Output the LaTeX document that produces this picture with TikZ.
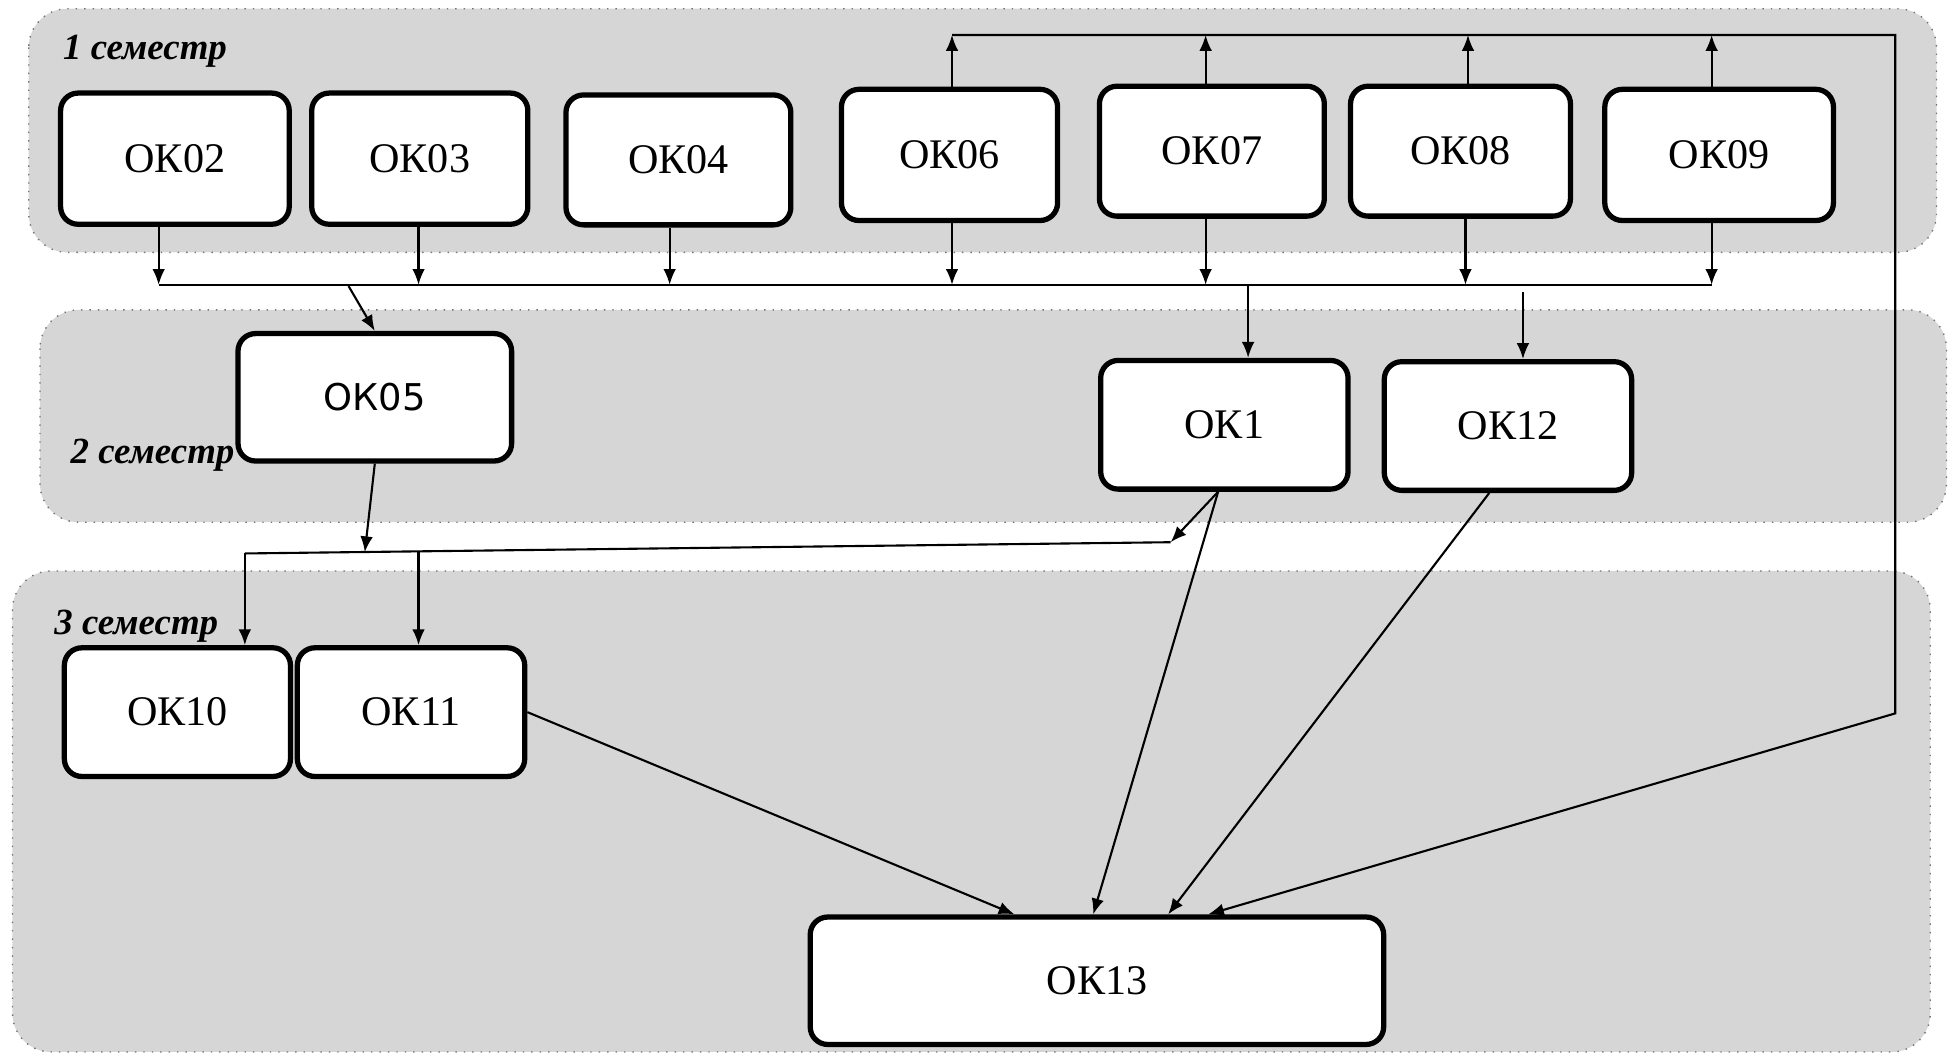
\documentclass[tikz,border=0pt]{standalone}
\usepackage{fontspec}
\setmainfont{Liberation Serif}
\newfontfamily\okfivefont{DejaVu Sans}
\usetikzlibrary{arrows.meta}
\newcommand\pxlen{0.012494cm}

\begin{document}
\begin{tikzpicture}
[x=\pxlen, y=-\pxlen,
  semdecorate/.style={draw=black!55, dotted, fill=black!16, rounded corners=11pt},
  nodedecorate/.style={shape=rectangle, draw, line width=1.5pt, fill=white,
    rounded corners=5pt, inner sep=0pt, font=\fontsize{12}{14}\selectfont},
  linedecorate/.style={-{Latex[length=4.5pt,width=3.6pt]}, line width=0.6pt},
  semlabel/.style={anchor=base west, inner sep=0pt,
    font=\fontsize{10.5}{13}\selectfont\bfseries\itshape}]
\useasboundingbox (0,0) rectangle (1568,844);
%% semesters
\draw[semdecorate] (23,7) rectangle (1550,202);
\draw[semdecorate] (32,248) rectangle (1558,418);
\draw[semdecorate] (10,457) rectangle (1545,842);
\node[semlabel] (sem1) at (50,48) {1 семестр};
%% nodes or vertices
\foreach \nodename/\txt/\x/\y/\w/\h in {ok02/ОК02/140/127/183/105,
  ok03/ОК03/336/127/173/105, ok04/ОК04/543/128/180/104,
  ok06/ОК06/760/124/173/105, ok07/ОК07/970/121/180/104,
  ok08/ОК08/1169/121/176/104, ok09/ОК09/1376/124/183/105,
  ok1/ОК1/980/340/198/103, ok12/ОК12/1207/341/198/103,
  ok10/ОК10/142/570/181/103, ok11/ОК11/329/570/182/103,
  ok13/ОК13/878/785/459/102}
{
  \node (\nodename) at (\x,\y) [nodedecorate, minimum width=\w*\pxlen,
    minimum height=\h*\pxlen] {\txt};
}
\node (ok05) at (300,318) [nodedecorate, font=\okfivefont\fontsize{10.5}{12}\selectfont,
  minimum width=219*\pxlen, minimum height=102*\pxlen] {ОК05};
\node[semlabel] (sem2) at (56,371) {2 семестр};
\node[semlabel] (sem3) at (43,508) {3 семестр};
%% edges or lines
\foreach \nodename/\x in {ok02/127, ok03/335, ok04/536, ok06/762,
  ok07/965, ok08/1173, ok09/1370}
{
  \coordinate (b\nodename) at (\x,228);
  \draw[linedecorate] (\nodename.south -| b\nodename) -- (b\nodename);
}
\draw[line width=0.6pt] (bok02) -- (bok09);
\foreach \nodename/\x in {ok06/762, ok07/965, ok08/1175, ok09/1370}
{
  \coordinate (t\nodename) at (\x,28);
  \draw[linedecorate] (\nodename.north -| t\nodename) -- (t\nodename);
}
\coordinate (turn1) at (1517,28);
\coordinate (turn2) at (1517,571);
\coordinate (in4) at (967,0);
\draw[linedecorate] (tok06) -- (turn1) -- (turn2) -- (ok13.north -| in4);
\coordinate (out05) at (279,229);
\coordinate (out1) at (999,228);
\coordinate (out12) at (1219,234);
\draw[linedecorate] (out05) -- (ok05.north);
\draw[linedecorate] (out1) -- (ok1.north -| out1);
\draw[linedecorate] (out12) -- (ok12.north -| out12);
\coordinate (j05) at (292,442);
\coordinate (jl) at (196,443);
\coordinate (jr) at (937,434);
\coordinate (j11) at (335,441.5);
\coordinate (s1) at (975,0);
\coordinate (s12) at (1192,0);
\draw[linedecorate] (ok05.south) -- (j05);
\draw[linedecorate] (ok1.south -| s1) -- (jr);
\draw[line width=0.6pt] (jl) -- (jr);
\draw[linedecorate] (jl) -- (ok10.north -| jl);
\draw[linedecorate] (j11) -- (ok11.north -| j11);
\coordinate (in11) at (812,0);
\coordinate (in1) at (875,0);
\coordinate (in12) at (935,0);
\draw[linedecorate] (ok11.east) -- (ok13.north -| in11);
\draw[linedecorate] (ok1.south -| s1) -- (ok13.north -| in1);
\draw[linedecorate] (ok12.south -| s12) -- (ok13.north -| in12);
\end{tikzpicture}
\end{document}
